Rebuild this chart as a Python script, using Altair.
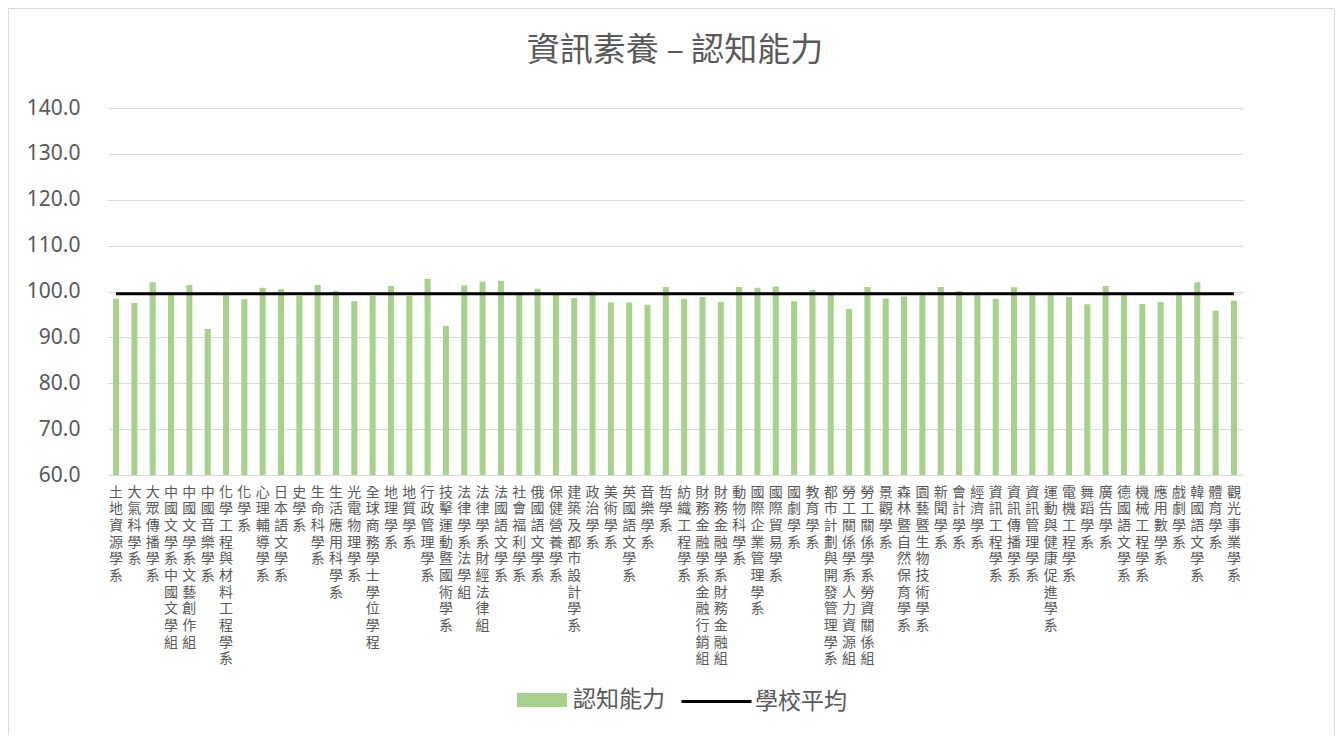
import altair as alt
import pandas as pd

categories = [
    "土地資源學系", "大氣科學系", "大眾傳播學系", "中國文學系中國文學組", "中國文學系文藝創作組",
    "中國音樂學系", "化學工程與材料工程學系", "化學系", "心理輔導學系", "日本語文學系",
    "史學系", "生命科學系", "生活應用科學系", "光電物理學系", "全球商務學士學位學程",
    "地理學系", "地質學系", "行政管理學系", "技擊運動暨國術學系", "法律學系法學組",
    "法律學系財經法律組", "法國語文學系", "社會福利學系", "俄國語文學系", "保健營養學系",
    "建築及都市設計學系", "政治學系", "美術學系", "英國語文學系", "音樂學系",
    "哲學系", "紡織工程學系", "財務金融學系金融行銷組", "財務金融學系財務金融組", "動物科學系",
    "國際企業管理學系", "國際貿易學系", "國劇學系", "教育學系", "都市計劃與開發管理學系",
    "勞工關係學系人力資源組", "勞工關係學系勞資關係組", "景觀學系", "森林暨自然保育學系", "園藝暨生物技術學系",
    "新聞學系", "會計學系", "經濟學系", "資訊工程學系", "資訊傳播學系",
    "資訊管理學系", "運動與健康促進學系", "電機工程學系", "舞蹈學系", "廣告學系",
    "德國語文學系", "機械工程學系", "應用數學系", "戲劇學系", "韓國語文學系",
    "體育學系", "觀光事業學系",
]

scores = [
    98.4, 97.5, 102.0, 99.2, 101.4,
    91.8, 99.2, 98.3, 100.8, 100.5,
    99.1, 101.4, 100.1, 97.9, 99.1,
    101.2, 99.1, 102.7, 92.5, 101.3,
    102.1, 102.3, 99.8, 100.6, 99.4,
    98.6, 100.0, 97.6, 97.6, 97.1,
    101.0, 98.4, 98.8, 97.7, 101.0,
    100.8, 101.1, 97.9, 100.3, 99.5,
    96.2, 101.0, 98.5, 98.9, 99.2,
    101.0, 100.1, 99.2, 98.4, 100.9,
    99.2, 99.2, 98.8, 97.2, 101.2,
    99.2, 97.3, 97.7, 99.2, 102.0,
    95.8, 98.0,
]

school_avg = 99.5
y_min, y_max = 60, 140
y_ticks = [60, 70, 80, 90, 100, 110, 120, 130, 140]

df = pd.DataFrame({
    "dept": categories,
    "score": scores,
    "avg": [school_avg] * len(categories),
    "s1": ["認知能力"] * len(categories),
    "s2": ["學校平均"] * len(categories),
})

FONT = "Noto Sans CJK TC"
GRAY = "#595959"

x_enc = alt.X(
    "dept:N", sort=None,
    scale=alt.Scale(paddingInner=0.67, paddingOuter=0.33),
    axis=alt.Axis(
        title=None, labelAngle=0, labelExpr="split(datum.label, '')",
        labelLineHeight=16.7, labelFontSize=14, labelBaseline="top", labelAlign="center",
        labelPadding=10, ticks=False, domain=True, domainColor="#d9d9d9",
        labelColor=GRAY, labelOverlap=False, labelFont=FONT, grid=False,
    ),
)

y_axis = alt.Axis(
    values=y_ticks, format=".1f", title=None, labelFontSize=21, labelColor=GRAY,
    labelFont="Noto Sans", ticks=False, domain=False, gridColor="#d9d9d9",
    labelPadding=27,
)
y_scale = alt.Scale(domain=[y_min, y_max], nice=False, zero=False)

base = alt.Chart(df)

bars = base.mark_bar().encode(
    x=x_enc,
    y=alt.Y("score:Q", scale=y_scale, axis=y_axis),
    y2=alt.datum(y_min),
    fill=alt.Fill("s1:N", scale=alt.Scale(range=["#A9D18E"]), legend=alt.Legend(
        title=None, orient="none", legendX=410, legendY=567,
        symbolType="M-1,-0.28H1V0.28H-1Z", symbolSize=2500, symbolStrokeWidth=0,
        labelFontSize=23, labelColor=GRAY, labelFont=FONT, labelOffset=6,
    )),
)

line = base.mark_line(strokeWidth=3).encode(
    x=alt.X("dept:N", sort=None),
    y=alt.Y("avg:Q", scale=y_scale),
    stroke=alt.Stroke("s2:N", scale=alt.Scale(range=["#000000"]), legend=alt.Legend(
        title=None, orient="none", legendX=573, legendY=557,
        symbolType="stroke", symbolSize=4900, symbolStrokeWidth=3,
        labelFontSize=23, labelColor=GRAY, labelFont=FONT, labelOffset=2,
    )),
)

frame = alt.Chart(pd.DataFrame({"f": [0]})).mark_rect(
    fill="transparent", stroke="#d9d9d9", strokeWidth=1
).encode(
    x=alt.value(-98.5), x2=alt.value(1227.5), y=alt.value(-99.5), y2=alt.value(640)
)

chart = alt.layer(frame, bars, line).properties(
    width=1136, height=367,
    title=alt.TitleParams(
        "資訊素養 – 認知能力", fontSize=33, color=GRAY, font=FONT,
        fontWeight="normal", anchor="middle", offset=-60,
    ),
    autosize=alt.AutoSizeParams(type="none"),
    padding={"left": 99, "top": 100, "right": 92, "bottom": 260},
).configure(font=FONT, view=alt.ViewConfig(stroke=None))

chart.save("out.html", embed_options={"renderer": "svg", "actions": False})
